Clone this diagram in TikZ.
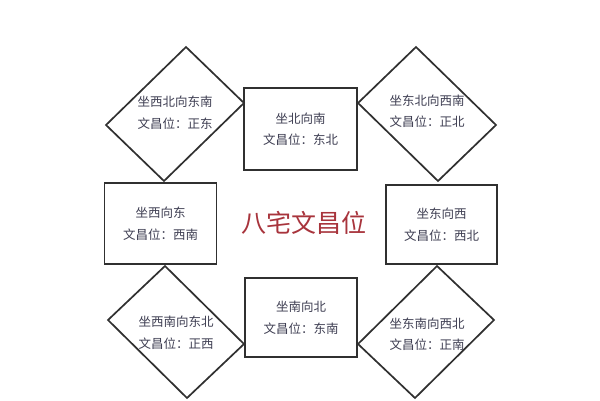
\documentclass[tikz,border=0pt]{standalone}
\usepackage{fontspec}
\usetikzlibrary{calc}
\setmainfont{Noto Sans CJK SC}
\definecolor{textcol}{HTML}{3E3E52}
\definecolor{titlecol}{HTML}{A8343C}
\definecolor{linecol}{HTML}{303030}
\begin{document}
\begin{tikzpicture}[x=1pt,y=-1pt,
  shapeline/.style={draw=linecol, line width=1.7pt, line join=miter},
  boxtext/.style={text=textcol, font=\fontsize{12.5}{21.5}\selectfont, align=center, inner sep=0pt},
  squarebox/.style={shapeline, boxtext, rectangle, minimum width=113pt, minimum height=81pt}]
\useasboundingbox (0,0) rectangle (600,400);
\fill[white] (0,0) rectangle (600,400);

% diamonds (tilted rectangles)
\foreach \nm/\cx/\cy/\ax/\ay/\bx/\by in {tl/175/114/11/-67/69/-11, tr/427/114/-11/-67/69/11, bl/176/332/-11/-66/68/12, br/426/332/11/-66/68/-12}{
  \coordinate (\nm c) at (\cx,\cy);
  \coordinate (\nm t) at ($(\nm c)+(\ax,\ay)$);
  \coordinate (\nm r) at ($(\nm c)+(\bx,\by)$);
  \coordinate (\nm b) at ($(\nm c)-(\ax,\ay)$);
  \coordinate (\nm l) at ($(\nm c)-(\bx,\by)$);
  \draw[shapeline] (\nm t) -- (\nm r) -- (\nm b) -- (\nm l) -- cycle;
}
\node[boxtext] (tltext) at (175,112.5) {坐西北向东南\\文昌位：正东};
\node[boxtext] (trtext) at (427,111) {坐东北向西南\\文昌位：正北};
\node[boxtext] (bltext) at (176,332.5) {坐西南向东北\\文昌位：正西};
\node[boxtext] (brtext) at (427,334) {坐东南向西北\\文昌位：正南};

% rectangles
\node[squarebox, minimum width=113pt, minimum height=82pt] (top) at (300.5,129) {坐北向南\\文昌位：东北};
\node[squarebox, minimum width=112pt, minimum height=81pt] (left) at (160.5,223.5) {坐西向东\\文昌位：西南};
\node[squarebox, minimum width=111pt, minimum height=79pt] (right) at (441.5,224.5) {坐东向西\\文昌位：西北};
\node[squarebox, minimum width=112pt, minimum height=79pt] (bottom) at (301,317.5) {坐南向北\\文昌位：东南};

% title
\node[text=titlecol, font=\fontsize{25}{25}\selectfont, inner sep=0pt] (title) at (304,223) {八宅文昌位};
\end{tikzpicture}
\end{document}
